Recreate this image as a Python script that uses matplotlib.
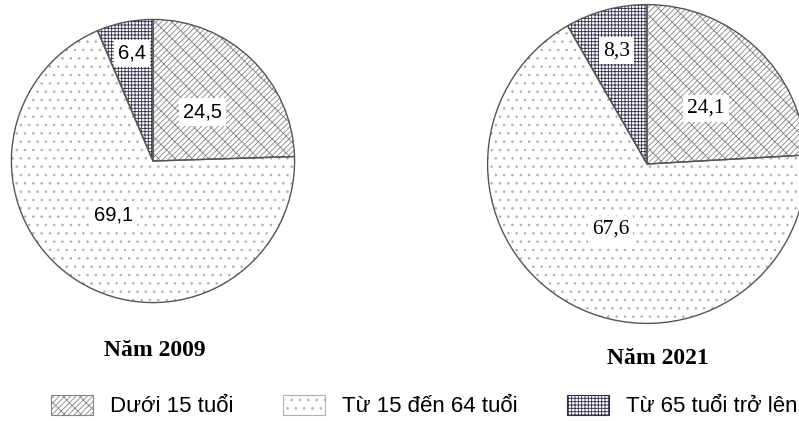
import matplotlib.pyplot as plt
from matplotlib.patches import Patch

plt.rcParams["hatch.linewidth"] = 0.6

groups = ["Dưới 15 tuổi", "Từ 15 đến 64 tuổi", "Từ 65 tuổi trở lên"]
share_2009 = [24.5, 69.1, 6.4]
share_2021 = [24.1, 67.6, 8.3]
years = ["Năm 2009", "Năm 2021"]

hatches = ["//////\\\\", "..", "+++++"]
hatch_colors = ["#858585", "#b0b0b0", "#2e2e4a"]
outline = "#555555"


def draw_pie(ax, values, label_pos, fontfamily, fontsize):
    # hatched fill first, then a clean outline on top
    wedges, _ = ax.pie(values, startangle=90, counterclock=False, radius=1,
                       colors=["white"] * 3, wedgeprops=dict(linewidth=0))
    for w, h, c in zip(wedges, hatches, hatch_colors):
        w.set_hatch(h)
        w.set_edgecolor(c)
    ax.pie(values, startangle=90, counterclock=False, radius=1,
           wedgeprops=dict(fill=False, edgecolor=outline, linewidth=1.0))
    for v, (x, y) in zip(values, label_pos):
        ax.text(x, y, f"{v:.1f}".replace(".", ","), ha="center", va="center",
                fontsize=fontsize, family=fontfamily,
                bbox=dict(facecolor="white", edgecolor="none", pad=3))
    ax.set_xlim(-1.01, 1.01)
    ax.set_ylim(-1.01, 1.01)
    ax.set_aspect("equal")
    ax.axis("off")


fig = plt.figure(figsize=(7.99, 4.21), dpi=100)
W, H = 799, 421

# left pie: centre (153, 161), radius ~142 px
ax1 = fig.add_axes([(153 - 143) / W, (H - 161 - 143) / H, 286 / W, 286 / H])
draw_pie(ax1, share_2009, [(0.35, 0.345), (-0.28, -0.38), (-0.15, 0.76)],
         "Liberation Sans", 14.5)

# right pie: centre (647, 164), radius 160 px
ax2 = fig.add_axes([(647 - 161) / W, (H - 164 - 161) / H, 322 / W, 322 / H])
draw_pie(ax2, share_2021, [(0.37, 0.35), (-0.23, -0.41), (-0.19, 0.71)],
         "Liberation Serif", 15.5)

fig.text(155 / W, 1 - 350 / H, years[0], ha="center", va="center",
         fontsize=17, family="Liberation Serif", fontweight="bold")
fig.text(658 / W, 1 - 358 / H, years[1], ha="center", va="center",
         fontsize=17, family="Liberation Serif", fontweight="bold")

legend_x = [51, 283, 567]
for g, h, c, x in zip(groups, hatches, hatch_colors, legend_x):
    handle = Patch(facecolor="white", edgecolor=c, hatch=h, linewidth=0.8)
    fig.legend([handle], [g], loc="center left",
               bbox_to_anchor=(x / W, 1 - 406 / H), frameon=False,
               borderpad=0, borderaxespad=0,
               handlelength=1.9, handleheight=1.0, handletextpad=0.75,
               prop=dict(family="Liberation Sans", size=16))

fig.savefig("out.png", dpi=100, facecolor="white")
